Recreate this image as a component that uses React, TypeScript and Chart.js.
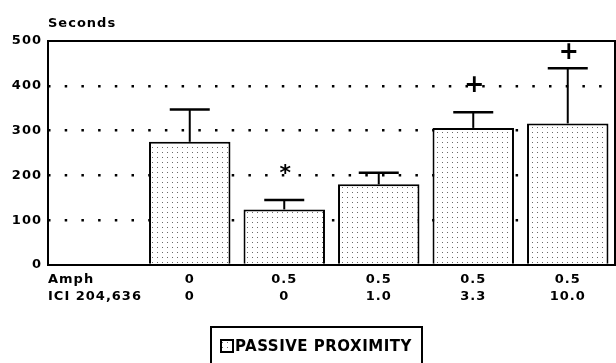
import React, { useEffect, useRef } from "react";
import { Chart, registerables } from "chart.js";

Chart.register(...registerables);

// ---- data ----
const rowLabels = ["Amph", "ICI 204,636"];
const amphDoses = ["0", "0.5", "0.5", "0.5", "0.5"];
const iciDoses = ["0", "0", "1.0", "3.3", "10.0"];
const passiveProximity = [275, 124, 180, 306, 316];
const errorUpper = [347, 145, 206, 341, 439];
const significance = ["", "*", "", "+", "+"];
const markerValues = [null, 212, null, 400, 473];
const yTickValues = [0, 100, 200, 300, 400, 500];
const seriesLabel = "PASSIVE PROXIMITY";
const yAxisTitle = "Seconds";

const FONT = "'DejaVu Sans', sans-serif";

function makePattern(ctx: CanvasRenderingContext2D) {
  const c = document.createElement("canvas");
  c.width = 5;
  c.height = 5;
  const p = c.getContext("2d")!;
  p.fillStyle = "#ffffff";
  p.fillRect(0, 0, 5, 5);
  p.fillStyle = "#6a6a6a";
  p.fillRect(2, 2, 1, 1);
  return ctx.createPattern(c, "repeat")!;
}

export default function App() {
  const ref = useRef<HTMLCanvasElement | null>(null);

  useEffect(() => {
    document.body.style.margin = "0";
    const canvas = ref.current!;
    const ctx0 = canvas.getContext("2d")!;
    const pattern = makePattern(ctx0);

    const overlay = {
      id: "overlay",
      beforeDraw(chart: any) {
        const ctx = chart.ctx;
        ctx.save();
        ctx.fillStyle = "#fff";
        ctx.fillRect(0, 0, chart.width, chart.height);
        ctx.restore();
        (ctx as any).letterSpacing = "1px";
      },
      afterDatasetsDraw(chart: any) {
        const ctx = chart.ctx;
        const xs = chart.scales.x;
        const ys = chart.scales.y;
        ctx.save();
        ctx.strokeStyle = "#000";
        ctx.fillStyle = "#000";
        passiveProximity.forEach((v, i) => {
          const x = xs.getPixelForValue(i + 1);
          const yTop = ys.getPixelForValue(v);
          const yErr = ys.getPixelForValue(errorUpper[i]);
          ctx.lineWidth = 2;
          ctx.beginPath();
          ctx.moveTo(x, yTop);
          ctx.lineTo(x, yErr);
          ctx.stroke();
          ctx.lineWidth = 2.5;
          ctx.beginPath();
          ctx.moveTo(x - 20, yErr);
          ctx.lineTo(x + 20, yErr);
          ctx.stroke();
          const m = markerValues[i];
          if (m != null && significance[i]) {
            const my = ys.getPixelForValue(m);
            ctx.textAlign = "center";
            ctx.textBaseline = "middle";
            ctx.font = significance[i] === "*" ? `bold 22px ${FONT}` : `bold 24px ${FONT}`;
            (ctx as any).letterSpacing = "0px";
            ctx.fillText(significance[i], x + 1, my + (significance[i] === "*" ? 4 : 0));
          }
        });
        ctx.restore();
      },
      afterDraw(chart: any) {
        const ctx = chart.ctx;
        const a = chart.chartArea;
        ctx.save();
        ctx.strokeStyle = "#000";
        ctx.fillStyle = "#000";
        ctx.lineWidth = 2;
        ctx.beginPath();
        ctx.moveTo(a.left, a.bottom);
        ctx.lineTo(a.left, a.top);
        ctx.lineTo(a.right, a.top);
        ctx.lineTo(a.right, a.bottom);
        ctx.moveTo(a.left - 1, a.bottom);
        ctx.lineTo(a.right + 1, a.bottom);
        ctx.stroke();

        // y-axis title
        (ctx as any).letterSpacing = "1px";
        ctx.font = `bold 13px ${FONT}`;
        ctx.textAlign = "left";
        ctx.textBaseline = "middle";
        ctx.fillText(yAxisTitle, a.left, 24);

        // row labels
        ctx.font = `bold 13px ${FONT}`;
        ctx.fillText(rowLabels[0], a.left, 280);
        ctx.fillText(rowLabels[1], a.left, 297);

        // legend
        ctx.lineWidth = 2;
        ctx.strokeRect(211, 327, 211, 50);
        ctx.fillStyle = pattern;
        ctx.fillRect(221, 340, 12, 12);
        ctx.strokeRect(221, 340, 12, 12);
        ctx.fillStyle = "#000";
        ctx.font = `bold 15px ${FONT}`;
        (ctx as any).letterSpacing = "0.5px";
        ctx.fillText(seriesLabel, 235, 347);
        ctx.restore();
      },
    };

    const chart = new Chart(canvas, {
      type: "bar",
      data: {
        labels: ["", ...amphDoses.map((a, i) => [a, iciDoses[i]])],
        datasets: [
          {
            label: seriesLabel,
            data: [null, ...passiveProximity],
            backgroundColor: pattern as any,
            borderColor: "#000",
            borderWidth: 2,
            barPercentage: 0.862,
            categoryPercentage: 1,
          },
        ],
      },
      options: {
        responsive: false,
        animation: false,
        devicePixelRatio: 1,
        layout: { padding: { top: 41, right: 1, left: 0, bottom: 0 } },
        plugins: { legend: { display: false }, tooltip: { enabled: false } },
        scales: {
          x: {
            grid: { display: false, drawTicks: false },
            border: { display: false },
            ticks: {
              color: "#000",
              font: { family: FONT, size: 13, weight: "bold", lineHeight: 1.3 },
              padding: 6,
              maxRotation: 0,
              autoSkip: false,
            },
            afterFit: (s: any) => {
              s.height = 98;
            },
          },
          y: {
            min: 0,
            max: 500,
            afterBuildTicks: (s: any) => {
              s.ticks = yTickValues.map((v) => ({ value: v }));
            },
            afterFit: (s: any) => {
              s.width = 48;
            },
            grid: {
              drawTicks: false,
              color: (c: any) =>
                c.tick && (c.tick.value === 0 || c.tick.value === 500) ? "rgba(0,0,0,0)" : "#000",
              lineWidth: 2.5,
            },
            border: { display: false, dash: [2.5, 14.2] },
            ticks: {
              color: "#000",
              font: { family: FONT, size: 13, weight: "bold" },
              padding: 6,
            },
          },
        },
      },
      plugins: [overlay],
    });
    return () => chart.destroy();
  }, []);

  return (
    <div style={{ width: 616, height: 363 }}>
      <canvas ref={ref} width={616} height={363} style={{ display: "block" }} />
    </div>
  );
}
